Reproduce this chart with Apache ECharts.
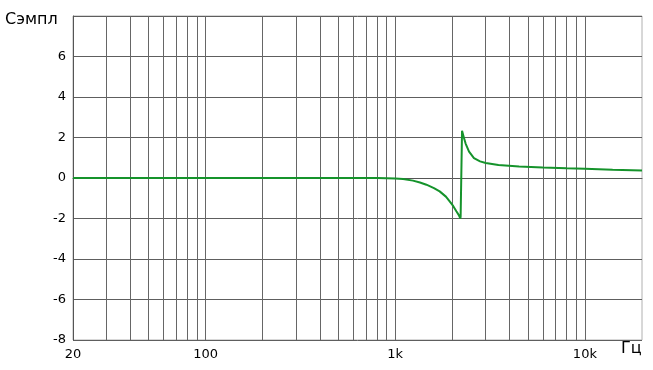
<!DOCTYPE html>
<html>
<head>
<meta charset="utf-8">
<script src="https://cdn.jsdelivr.net/npm/echarts@6/dist/echarts.min.js"></script>
<style>html,body{margin:0;padding:0;background:#fff}#c{width:653px;height:370px}</style>
</head>
<body>
<div id="c"></div>
<script>
const freqs = [20, 50, 100, 200, 400, 600, 700, 800, 900, 1000, 1100, 1240, 1350, 1460, 1600, 1715, 1850, 1936, 2020, 2100, 2160, 2205, 2212, 2250, 2300, 2350, 2450, 2600, 2800, 3000, 3500, 4500, 6000, 8000, 10000, 14000, 20000];
const values = [0, 0, 0, 0, 0, 0, 0, -0.005, -0.01, -0.03, -0.05, -0.13, -0.22, -0.33, -0.5, -0.66, -0.92, -1.15, -1.38, -1.64, -1.82, -2.0, -1.9, 2.33, 2.0, 1.7, 1.3, 0.98, 0.82, 0.74, 0.64, 0.57, 0.52, 0.48, 0.46, 0.41, 0.37];
const gridFreqs = [30, 40, 50, 60, 70, 80, 90, 100, 200, 300, 400, 500, 600, 700, 800, 900, 1000, 2000, 3000, 4000, 5000, 6000, 7000, 8000, 9000, 10000];
const xTickLabels = {20: '20', 100: '100', 1000: '1k', 10000: '10k'};
const yMin = -8, yMax = 8, yStep = 2;

const chart = echarts.init(document.getElementById('c'), null, {renderer: 'canvas'});
const font = 'DejaVu Sans, Verdana, sans-serif';
chart.setOption({
  animation: false,
  grid: {left: 73, top: 16, right: 11, bottom: 30, show: true, borderColor: '#b0b0b0', borderWidth: 1},
  xAxis: {
    type: 'log', logBase: 10, min: 20, max: 20000,
    axisLine: {show: true, lineStyle: {color: '#555', width: 1}},
    axisTick: {show: false},
    splitLine: {show: false},
    axisLabel: {
      color: '#000', fontFamily: font, fontSize: 13, margin: 8,
      showMaxLabel: false,
      formatter: function (v) { const r = Math.round(v); return xTickLabels[r] || ''; }
    }
  },
  yAxis: {
    type: 'value', min: yMin, max: yMax, interval: yStep,
    axisLine: {show: true, lineStyle: {color: '#555', width: 1}},
    axisTick: {show: false},
    splitLine: {show: true, lineStyle: {color: '#5e5e5e', width: 1}},
    axisLabel: {
      color: '#000', fontFamily: font, fontSize: 13, margin: 7,
      formatter: function (v) { return v === yMax ? '' : String(v); }
    }
  },
  graphic: [
    {type: 'text', left: 5, top: 12, style: {text: 'Сэмпл', font: '16px ' + font, fill: '#000'}},
    {type: 'text', left: 621, top: 341, style: {text: 'Гц', font: '16px ' + font, fill: '#000'}}
  ],
  series: [{
    type: 'line',
    data: freqs.map((f, i) => [f, values[i]]),
    showSymbol: false,
    lineStyle: {color: '#15932b', width: 2},
    z: 5,
    markLine: {
      silent: true, symbol: 'none', label: {show: false},
      lineStyle: {color: '#666666', width: 1, type: 'solid'},
      data: gridFreqs.map(f => ({xAxis: f})),
      z: 1
    }
  }]
});
</script>
</body>
</html>
